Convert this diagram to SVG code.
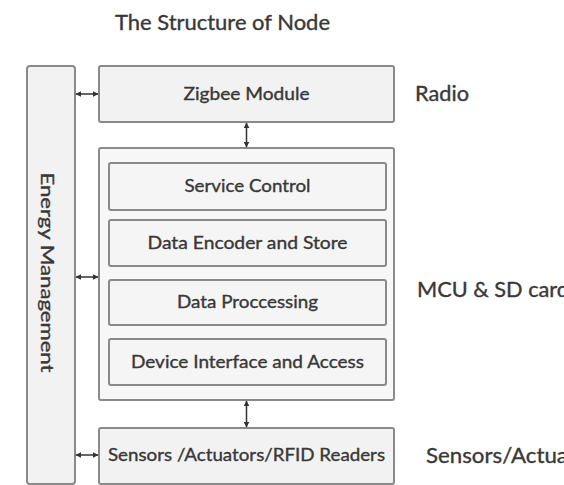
<svg xmlns="http://www.w3.org/2000/svg" width="564" height="485" viewBox="0 0 564 485">
  <defs>
    <marker id="head" viewBox="0 0 10 10" refX="9" refY="5" markerWidth="6" markerHeight="6" orient="auto-start-reverse" markerUnits="userSpaceOnUse">
      <path d="M0,0 L10,5 L0,10 Z" fill="#333333"/>
    </marker>
  </defs>
  <style>
    .box { fill: #f2f2f2; stroke: #8a8a8a; stroke-width: 2; }
    .container { fill: #f7f7f7; stroke: #8a8a8a; stroke-width: 2; }
    .inner { fill: #f5f5f5; stroke: #8a8a8a; stroke-width: 2; }
    text { font-family: Lato, "Open Sans", "Liberation Sans", sans-serif; fill: #383838; stroke: #383838; stroke-width: 0.35; }
    .lbl { text-anchor: middle; font-size: 17px; }
    .side { font-size: 21px; }
    .title { font-size: 21px; text-anchor: middle; }
    .conn { stroke: #333333; stroke-width: 1.5; fill: none; marker-start: url(#head); marker-end: url(#head); }
  </style>
  <rect width="564" height="485" fill="#ffffff"/>

  <text class="title" x="222.5" y="30" textLength="215" lengthAdjust="spacingAndGlyphs">The Structure of Node</text>

  <!-- energy management column -->
  <g id="energy">
    <rect class="box" x="27" y="66" width="48" height="418" rx="3"/>
    <text class="lbl" transform="translate(47,272.5) rotate(90)" y="6" textLength="200" lengthAdjust="spacingAndGlyphs">Energy Management</text>
  </g>

  <!-- radio layer -->
  <g id="zigbee">
    <rect class="box" x="99" y="66" width="295" height="56" rx="2"/>
    <text class="lbl" x="246.5" y="100" textLength="126" lengthAdjust="spacingAndGlyphs">Zigbee Module</text>
  </g>
  <g id="radio-label">
    <text class="side" x="415" y="101" textLength="54" lengthAdjust="spacingAndGlyphs">Radio</text>
  </g>

  <!-- MCU layer with its sub-blocks -->
  <g id="mcu">
    <rect class="container" x="99" y="148" width="295" height="252" rx="2"/>
  </g>
  <g id="service-control">
    <rect class="inner" x="109" y="163" width="277" height="47" rx="2"/>
    <text class="lbl" x="247.5" y="192" textLength="126" lengthAdjust="spacingAndGlyphs">Service Control</text>
  </g>
  <g id="data-encoder">
    <rect class="inner" x="109" y="220" width="277" height="46" rx="2"/>
    <text class="lbl" x="247.5" y="249" textLength="200" lengthAdjust="spacingAndGlyphs">Data Encoder and Store</text>
  </g>
  <g id="data-processing">
    <rect class="inner" x="109" y="280" width="277" height="45" rx="2"/>
    <text class="lbl" x="247.5" y="308" textLength="141" lengthAdjust="spacingAndGlyphs">Data Proccessing</text>
  </g>
  <g id="device-interface">
    <rect class="inner" x="109" y="339" width="277" height="46" rx="2"/>
    <text class="lbl" x="247.5" y="368" textLength="233" lengthAdjust="spacingAndGlyphs">Device Interface and Access</text>
  </g>
  <g id="mcu-label">
    <text class="side" x="417" y="297" textLength="152" lengthAdjust="spacingAndGlyphs">MCU &amp; SD card</text>
  </g>

  <!-- sensing layer -->
  <g id="sensors">
    <rect class="box" x="99" y="428" width="295" height="56" rx="2"/>
    <text class="lbl" x="246.5" y="461" textLength="277" lengthAdjust="spacingAndGlyphs">Sensors /Actuators/RFID Readers</text>
  </g>
  <g id="sensors-label">
    <text class="side" x="426" y="463" textLength="180" lengthAdjust="spacingAndGlyphs">Sensors/Actuators</text>
  </g>

  <!-- two-way links -->
  <g id="connectors">
    <line class="conn" x1="76" y1="94" x2="98" y2="94"/>
    <line class="conn" x1="76" y1="277" x2="98" y2="277"/>
    <line class="conn" x1="76" y1="455" x2="98" y2="455"/>
    <line class="conn" x1="246.5" y1="123" x2="246.5" y2="147"/>
    <line class="conn" x1="246.5" y1="401" x2="246.5" y2="427"/>
  </g>
</svg>
